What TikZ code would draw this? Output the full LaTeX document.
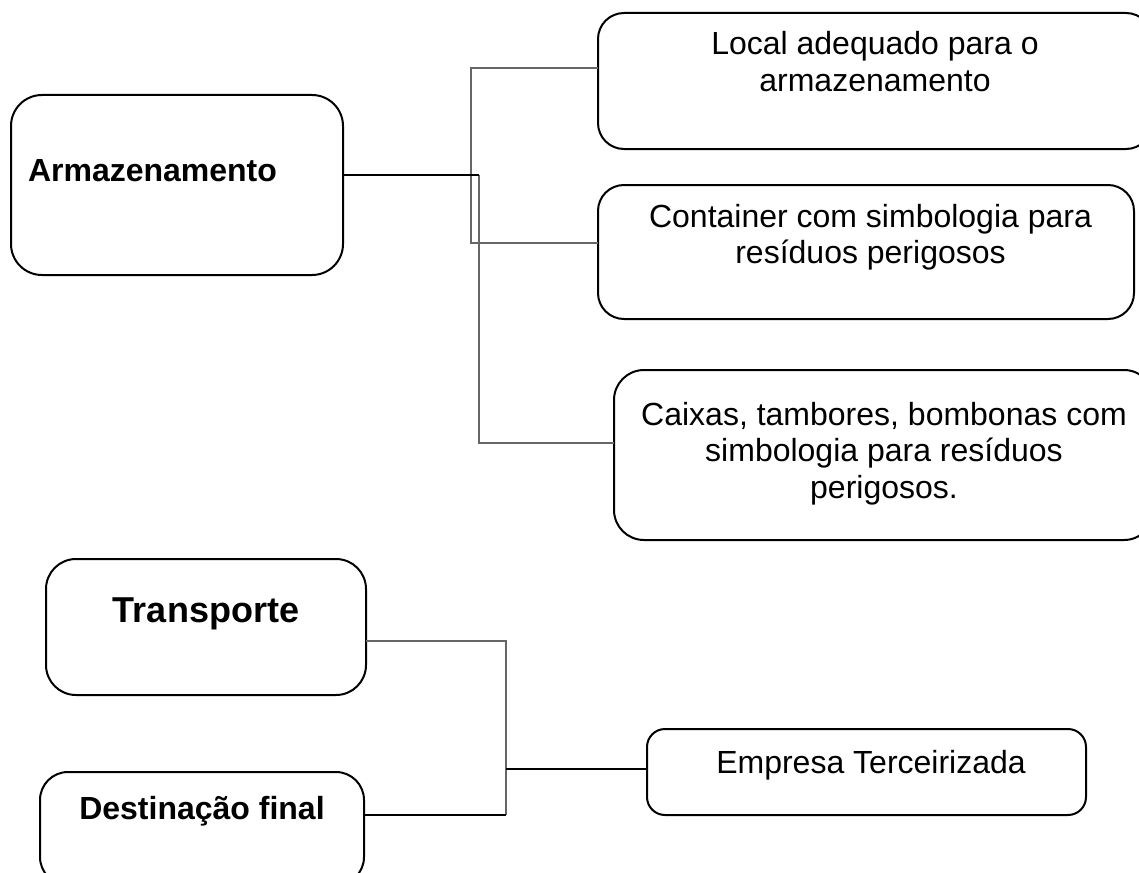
\documentclass[tikz,border=0pt]{standalone}
\usepackage{fontspec}
\setmainfont{Liberation Sans}
\usetikzlibrary{calc}
\newcommand{\caixatxt}[4]{\parbox[c][#2][t]{#1}{\centering\rule{0pt}{#3}#4}}

\begin{document}
\begin{tikzpicture}[x=1pt,y=-1pt,
	caixa/.style={draw, line width=2pt, inner sep=0pt, outer sep=0pt, rounded corners=28pt,
		font=\fontsize{32}{36.8}\selectfont},
	liga/.style={line width=1.5pt, black},
	ramo/.style={line width=1.3pt, black!60}]
\useasboundingbox (0,0) rectangle (1139,872);

\node[caixa, rounded corners=31pt] (arm) at (177,185) {\caixatxt{332pt}{180pt}{86pt}{\bfseries Armazenamento\hspace*{49pt}}};
\node[caixa, rounded corners=26pt] (local) at (875,81) {\caixatxt{554pt}{136pt}{42pt}{Local adequado para o\\armazenamento}};
\node[caixa, rounded corners=26pt] (cont) at (866,252) {\caixatxt{536pt}{134pt}{42pt}{\hspace*{9pt}Container com simbologia para\\\hspace*{9pt}resíduos perigosos}};
\node[caixa, rounded corners=30pt] (caix) at (884,455) {\caixatxt{540pt}{170pt}{55pt}{Caixas, tambores, bombonas com\\simbologia para resíduos\\perigosos.}};
\node[caixa, rounded corners=30pt] (trans) at (206,627) {\caixatxt{320pt}{136pt}{63pt}{\fontsize{36}{40}\selectfont\bfseries Transporte}};
\node[caixa, rounded corners=28pt] (dest) at (202,828.5) {\caixatxt{324pt}{113pt}{47pt}{\bfseries Destinação final}};
\node[caixa, rounded corners=18pt] (emp) at (866.5,772) {\caixatxt{439pt}{86pt}{44pt}{\hspace*{9pt}Empresa Terceirizada}};

\coordinate (ja) at (479,175);
\coordinate (t1) at (471,68);
\coordinate (t2) at (471,243);
\coordinate (t3) at (479,443);
\coordinate (jt) at (506,641);
\coordinate (je) at (506,769);
\coordinate (jd) at (506,815);

\draw[ramo] (local.west |- t1) -- (t1) -- (t2) -- (cont.west |- t2);
\draw[ramo] (ja) -- (t3) -- (caix.west |- t3);
\draw[liga] (arm.east |- ja) -- (ja);

\draw[ramo] (trans.east |- jt) -- (jt) -- (jd);
\draw[liga] (dest.east |- jd) -- (jd);
\draw[liga] (je) -- (emp.west |- je);
\end{tikzpicture}
\end{document}
